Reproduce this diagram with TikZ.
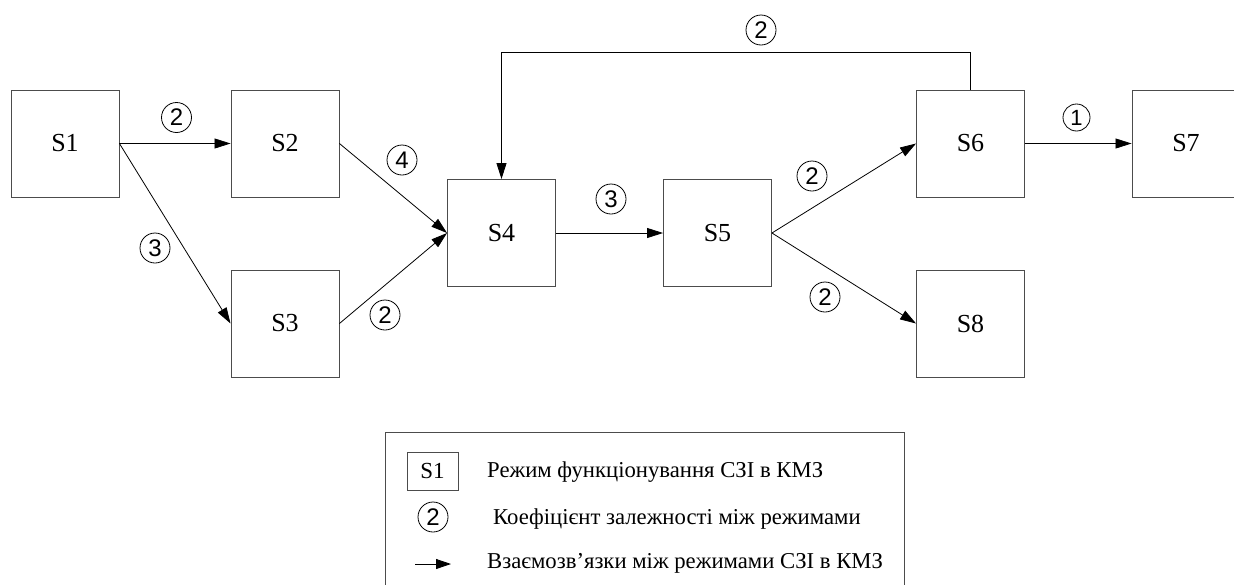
\documentclass[tikz,border=0pt]{standalone}
\usepackage{fontspec}
\setmainfont{Liberation Serif}
\newfontfamily\arialf{Liberation Sans}
\usetikzlibrary{arrows.meta}
\begin{document}
\begin{tikzpicture}[x=1pt,y=-1pt,
  box/.style={draw=black!70,line width=0.9pt,minimum width=108pt,minimum height=107pt,inner sep=0pt,font=\fontsize{26}{30}\selectfont},
  num/.style={draw,circle,line width=0.8pt,minimum size=30pt,inner sep=0pt,font=\arialf\fontsize{24}{26}\selectfont},
  conn/.style={line width=0.8pt,-{Triangle[length=16pt,width=10pt]}},
  legtxt/.style={anchor=west,inner sep=0pt,font=\fontsize{22.7}{26}\selectfont}]
\useasboundingbox (0,0) rectangle (1234,584);
\clip (0,0) rectangle (1234,584);
% boxes
\node[box] (s1) at (65,143.5) {S1};
\node[box] (s2) at (285,143.5) {S2};
\node[box] (s3) at (285,323.5) {S3};
\node[box] (s4) at (501.5,233) {S4};
\node[box] (s5) at (717.5,233) {S5};
\node[box] (s6) at (970.5,143.5) {S6};
\node[box] (s7) at (1186,143.5) {S7};
\node[box] (s8) at (970.5,323.5) {S8};
% connectors
\draw[conn] (s1.east) -- (s2.west);
\draw[conn] (s1.east) -- (s3.west);
\draw[conn] (s2.east) -- (s4.west);
\draw[conn] (s3.east) -- (s4.west);
\draw[conn] (s4.east) -- (s5.west);
\draw[conn] (s5.east) -- (s6.west);
\draw[conn] (s5.east) -- (s8.west);
\draw[conn] (s6.east) -- (s7.west);
\coordinate (top) at (0,52);
\draw[conn] (s6.north) -- (s6.north |- top) -| (s4.north);
% labels
\node[num] (l12) at (176.5,117.5) {2};
\node[num] (l13) at (155,248) {3};
\node[num] (l24) at (402,160) {4};
\node[num] (l34) at (385,315) {2};
\node[num] (l45) at (611,199) {3};
\node[num] (l56) at (812,176) {2};
\node[num] (l58) at (825,297) {2};
\node[num,minimum size=27pt,font=\arialf\fontsize{22}{24}\selectfont] (l67) at (1076.5,117.5) {1};
\node[num] (l64) at (761,30) {2};
% legend
\node[draw=black!70,line width=0.9pt,minimum width=519pt,minimum height=170pt,inner sep=0pt,anchor=north west] (leg) at (385,432) {};
\node[draw=black!70,line width=0.8pt,minimum width=51pt,minimum height=38pt,inner sep=0pt,font=\fontsize{23}{26}\selectfont] (lbox) at (432.5,471) {S1};
\node[legtxt] (t1) at (487,472) {Режим функціонування СЗІ в КМЗ};
\node[num] (lcirc) at (433,517) {2};
\node[legtxt] (t2) at (493,519) {Коефіцієнт залежності між режимами};
\coordinate (la) at (415,564);
\coordinate (lb) at (451,564);
\draw[line width=0.8pt,-{Triangle[length=15pt,width=10pt]}] (la) -- (lb);
\node[legtxt] (t3) at (487,563) {Взаємозв’язки між режимами СЗІ в КМЗ};
\end{tikzpicture}
\end{document}
